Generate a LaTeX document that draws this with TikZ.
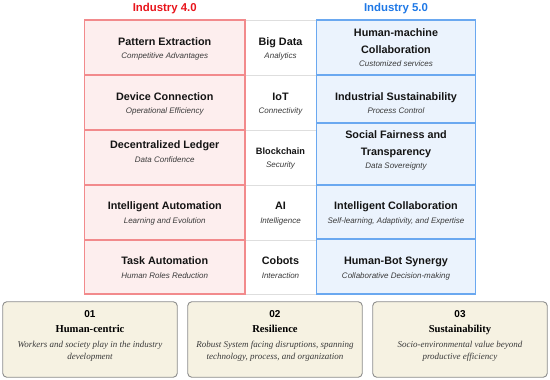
\documentclass[tikz,border=0pt]{standalone}
\usepackage{fontspec}
\setmainfont{Liberation Serif}
\setsansfont{Liberation Sans}
\definecolor{redT}{HTML}{E8141B}
\definecolor{blueT}{HTML}{1E78E6}
\definecolor{redB}{HTML}{F28A8C}
\definecolor{redF}{HTML}{FDEEEE}
\definecolor{blueB}{HTML}{6AA8F0}
\definecolor{blueF}{HTML}{EBF3FD}
\definecolor{midB}{HTML}{DEDEDE}
\definecolor{boxB}{HTML}{8C8C8C}
\definecolor{boxF}{HTML}{F6F2E2}
\definecolor{subT}{HTML}{3A3A3A}
\begin{document}
\begin{tikzpicture}[x=1pt,y=-1pt,
  every node/.style={inner sep=0pt,outer sep=0pt},
  cellR/.style={draw=redB,fill=redF,line width=1.1pt,minimum width=160.5pt},
  cellB/.style={draw=blueB,fill=blueF,line width=1.1pt,minimum width=159.5pt},
  cellM/.style={draw=midB,fill=white,line width=0.8pt,minimum width=71pt},
  ttl/.style={font=\sffamily\bfseries\fontsize{11.4}{13}\selectfont,text height=8.2pt,text depth=0pt},
  hd/.style={font=\sffamily\bfseries\fontsize{10.8}{13}\selectfont,text=black!92,text height=7.7pt,text depth=0pt},
  sb/.style={font=\sffamily\itshape\fontsize{8}{10}\selectfont,text=subT,text height=5.7pt,text depth=0pt},
  card/.style={draw=boxB,fill=boxF,line width=0.9pt,rounded corners=4pt,minimum width=174.5pt,minimum height=75.5pt},
  num/.style={font=\sffamily\bfseries\fontsize{10}{12}\selectfont,text height=7.2pt,text depth=0pt},
  ctl/.style={font=\bfseries\fontsize{10.6}{12}\selectfont,text height=7pt,text depth=0pt},
  dsc/.style={font=\itshape\fontsize{9}{11}\selectfont,text=subT,text height=6pt,text depth=0pt}]
\useasboundingbox (0,0) rectangle (550,380);
% titles
\node[ttl,text=redT] (t4) at (164.75,7) {Industry 4.0};
\node[ttl,text=blueT] (t5) at (396,7) {Industry 5.0};
% middle column
\node[cellM,minimum height=55pt] (m1) at (280.5,47.5) {};
\node[cellM,minimum height=55pt] (m2) at (280.5,102.5) {};
\node[cellM,minimum height=55pt] (m3) at (280.5,157.5) {};
\node[cellM,minimum height=55pt] (m4) at (280.5,212.5) {};
\node[cellM,minimum height=54pt] (m5) at (280.5,267) {};
% red column
\node[cellR,minimum height=55pt] (r1) at (164.75,47.5) {};
\node[cellR,minimum height=55pt] (r2) at (164.75,102.5) {};
\node[cellR,minimum height=55pt] (r3) at (164.75,157.5) {};
\node[cellR,minimum height=55pt] (r4) at (164.75,212.5) {};
\node[cellR,minimum height=54pt] (r5) at (164.75,267) {};
% blue column
\node[cellB,minimum height=55pt] (b1) at (396,47.5) {};
\node[cellB,minimum height=48pt] (b2) at (396,99) {};
\node[cellB,minimum height=62pt] (b3) at (396,154) {};
\node[cellB,minimum height=54pt] (b4) at (396,212) {};
\node[cellB,minimum height=55pt] (b5) at (396,266.5) {};
% red texts
\node[hd] (r1h) at (164.75,41.7) {Pattern Extraction};
\node[sb] (r1s) at (164.75,56) {Competitive Advantages};
\node[hd] (r2h) at (164.75,96.7) {Device Connection};
\node[sb] (r2s) at (164.75,111) {Operational Efficiency};
\node[hd] (r3h) at (164.75,145) {Decentralized Ledger};
\node[sb] (r3s) at (164.75,160) {Data Confidence};
\node[hd] (r4h) at (164.75,206) {Intelligent Automation};
\node[sb] (r4s) at (164.75,220.7) {Learning and Evolution};
\node[hd] (r5h) at (164.75,260.7) {Task Automation};
\node[sb] (r5s) at (164.75,275.7) {Human Roles Reduction};
% middle texts
\node[hd] (m1h) at (280.5,41.7) {Big Data};
\node[sb] (m1s) at (280.5,56) {Analytics};
\node[hd] (m2h) at (280.5,96.7) {IoT};
\node[sb] (m2s) at (280.5,111) {Connectivity};
\node[hd,font=\sffamily\bfseries\fontsize{9.2}{11}\selectfont,text height=6.6pt] (m3h) at (280.5,151) {Blockchain};
\node[sb] (m3s) at (280.5,164.7) {Security};
\node[hd] (m4h) at (280.5,206) {AI};
\node[sb] (m4s) at (280.5,220.7) {Intelligence};
\node[hd] (m5h) at (280.5,260.7) {Cobots};
\node[sb] (m5s) at (280.5,275.7) {Interaction};
% blue texts
\node[hd] (b1h) at (396,33) {Human-machine};
\node[hd] (b1i) at (396,50) {Collaboration};
\node[sb] (b1s) at (396,64) {Customized services};
\node[hd] (b2h) at (396,96.7) {Industrial Sustainability};
\node[sb] (b2s) at (396,110.7) {Process Control};
\node[hd] (b3h) at (396,135) {Social Fairness and};
\node[hd] (b3i) at (396,151.7) {Transparency};
\node[sb] (b3s) at (396,166) {Data Sovereignty};
\node[hd] (b4h) at (396,206) {Intelligent Collaboration};
\node[sb] (b4s) at (396,220.7) {Self-learning, Adaptivity, and Expertise};
\node[hd] (b5h) at (396,260.7) {Human-Bot Synergy};
\node[sb] (b5s) at (396,275.7) {Collaborative Decision-making};
% bottom cards
\node[card] (c1) at (90,339.5) {};
\node[card] (c2) at (275,339.5) {};
\node[card] (c3) at (460,339.5) {};
\node[num] (c1n) at (90,314) {01};
\node[ctl] (c1t) at (90,329) {Human-centric};
\node[dsc] (c1a) at (90,344) {Workers and society play in the industry};
\node[dsc] (c1b) at (90,356.7) {development};
\node[num] (c2n) at (275,314) {02};
\node[ctl] (c2t) at (275,329) {Resilience};
\node[dsc] (c2a) at (275,344) {Robust System facing disruptions, spanning};
\node[dsc] (c2b) at (275,356.7) {technology, process, and organization};
\node[num] (c3n) at (460,314) {03};
\node[ctl] (c3t) at (460,329) {Sustainability};
\node[dsc] (c3a) at (460,344) {Socio-environmental value beyond};
\node[dsc] (c3b) at (460,356.7) {productive efficiency};
\end{tikzpicture}
\end{document}
